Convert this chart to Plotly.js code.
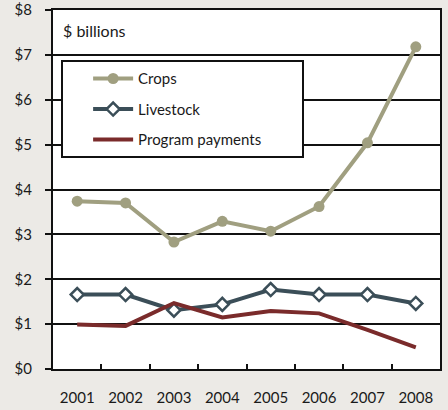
<!DOCTYPE html>
<html><head><meta charset="utf-8">
<script src="https://cdn.plot.ly/plotly-3.0.1.min.js"></script>
<style>html,body{margin:0;padding:0;background:#ECEAE6;}</style>
</head><body>
<div id="chart" style="width:448px;height:410px;"></div>
<script>
const years = ["2001","2002","2003","2004","2005","2006","2007","2008"];
const crops = [3.74, 3.70, 2.83, 3.29, 3.07, 3.62, 5.04, 7.18];
const livestock = [1.66, 1.66, 1.31, 1.44, 1.77, 1.66, 1.66, 1.46];
const programPayments = [0.99, 0.96, 1.47, 1.15, 1.29, 1.24, 0.87, 0.48];
const seriesNames = ["Crops", "Livestock", "Program payments"];
const yTickVals = [0,1,2,3,4,5,6,7,8];
const yTickText = ["$0","$1","$2","$3","$4","$5","$6","$7","$8"];

const font = {family: "Lato, 'Open Sans', sans-serif", size: 15, color: "#1a1a1a"};
const pad = "&nbsp;".repeat(9);
const traces = [
  {x: years, y: crops, name: seriesNames[0], type: "scatter", mode: "lines+markers", legendgroup: "a",
   line: {color: "#A09F80", width: 4}, marker: {symbol: "circle", size: 11, color: "#A09F80"}},
  {x: years, y: livestock, name: seriesNames[1], type: "scatter", mode: "lines+markers", legendgroup: "b",
   line: {color: "#3B4E58", width: 4}, marker: {symbol: "diamond", size: 10, color: "#ffffff", line: {color: "#3B4E58", width: 2.5}}},
  {x: years, y: programPayments, name: seriesNames[2] + pad, type: "scatter", mode: "lines", legendgroup: "c",
   line: {color: "#7A2B2B", width: 4}}
];
const layout = {
  width: 448, height: 410,
  margin: {l: 53, r: 8, t: 10, b: 41},
  paper_bgcolor: "#ECEAE6", plot_bgcolor: "#ffffff",
  font: font,
  showlegend: true,
  legend: {x: 0.02, y: 0.86, xanchor: "left", yanchor: "top", bgcolor: "#ffffff",
           bordercolor: "#111", borderwidth: 2, tracegroupgap: 8, itemwidth: 40,
           font: font, title: {text: "&nbsp;&nbsp;&nbsp;&nbsp;", side: "left", font: font}},
  xaxis: {type: "category", range: [-0.5, 7.5], showgrid: false, tickson: "boundaries",
          ticks: "inside", ticklen: 5, tickwidth: 2, tickcolor: "#111",
          showline: true, linecolor: "#111", linewidth: 2, mirror: true,
          ticklabelstandoff: 14, zeroline: false, fixedrange: true},
  yaxis: {range: [0, 8], tickvals: yTickVals, ticktext: yTickText, showgrid: true,
          gridcolor: "#111", gridwidth: 2, ticks: "outside", ticklen: 6, tickwidth: 2,
          tickcolor: "#111", showline: true, linecolor: "#111", linewidth: 2, mirror: true,
          zeroline: false, ticklabelstandoff: 10, fixedrange: true},
  annotations: [{xref: "paper", yref: "paper", x: 0.02, y: 0.944, xanchor: "left", yanchor: "middle",
                 text: "$ billions", showarrow: false, font: {family: font.family, size: 16, color: "#1a1a1a"}}]
};
Plotly.newPlot("chart", traces, layout, {displayModeBar: false, staticPlot: true});
</script>
</body></html>
